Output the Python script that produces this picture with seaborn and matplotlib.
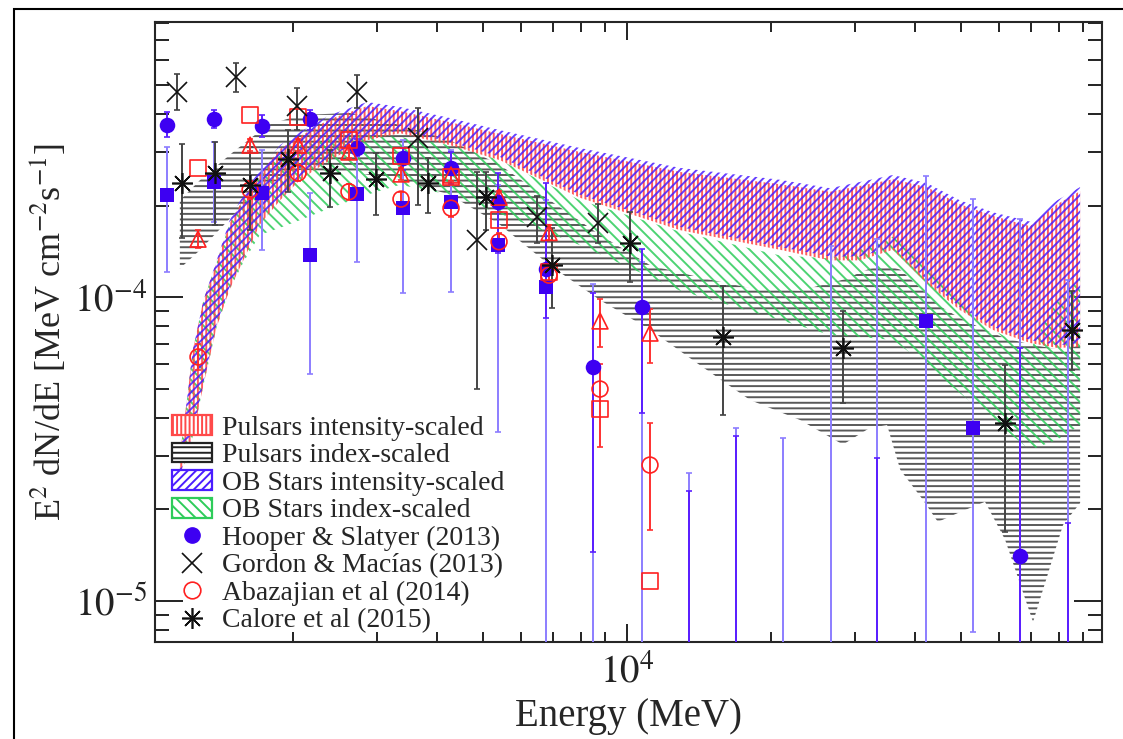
import numpy as np
import matplotlib
matplotlib.use("Agg")
import matplotlib.pyplot as plt
import seaborn as sns
from matplotlib.patches import Patch, Rectangle
from matplotlib.lines import Line2D
from matplotlib.ticker import FuncFormatter

nan = np.nan

# ---------------- model bands ----------------
band_E = [1160, 1200, 1235, 1300, 1385, 1475, 1575, 1705, 1880, 2070, 2390, 2860, 3350,
          4260, 5420, 7980, 12900, 20900, 26600, 30700, 36000, 42400, 49700, 58300,
          69700, 79400, 88700]
psr_int_hi = [3.02e-5, 4.58e-5, 6.69e-5, 9.77e-5, 1.30e-4, 1.75e-4, 2.10e-4, 2.54e-4, 3.07e-4,
              3.38e-4, 3.85e-4, 4.25e-4, 4.09e-4, 3.76e-4, 3.44e-4, 3.00e-4, 2.58e-4, 2.35e-4,
              2.22e-4, 2.32e-4, 2.44e-4, 2.30e-4, 2.02e-4, 1.85e-4, 1.71e-4, 2.02e-4, 2.23e-4]
psr_int_lo = [2.55e-5, 3.00e-5, 3.49e-5, 5.14e-5, 7.97e-5, 1.06e-4, 1.32e-4, 1.73e-4, 2.08e-4,
              2.43e-4, 2.82e-4, 3.28e-4, 3.46e-4, 3.16e-4, 2.82e-4, 2.12e-4, 1.66e-4, 1.43e-4,
              1.32e-4, 1.32e-4, 1.43e-4, 1.11e-4, 9.06e-5, 7.79e-5, 7.06e-5, 6.80e-5, 6.85e-5]
ob_int_hi = [3.02e-5, 4.58e-5, 6.69e-5, 9.77e-5, 1.32e-4, 1.79e-4, 2.17e-4, 2.62e-4, 3.16e-4,
             3.49e-4, 3.97e-4, 4.38e-4, 4.22e-4, 3.88e-4, 3.54e-4, 3.09e-4, 2.66e-4, 2.43e-4,
             2.28e-4, 2.39e-4, 2.52e-4, 2.37e-4, 2.08e-4, 1.90e-4, 1.77e-4, 2.08e-4, 2.30e-4]
ob_int_lo = [2.60e-5, 3.06e-5, 3.57e-5, 5.25e-5, 8.15e-5, 1.08e-4, 1.36e-4, 1.77e-4, 2.13e-4,
             2.48e-4, 2.89e-4, 3.36e-4, 3.54e-4, 3.24e-4, 2.89e-4, 2.17e-4, 1.70e-4, 1.46e-4,
             1.36e-4, 1.36e-4, 1.46e-4, 1.14e-4, 9.27e-5, 7.97e-5, 7.22e-5, 6.95e-5, 7.01e-5]
ob_idx_hi = [3.02e-5, 4.58e-5, 6.69e-5, 9.77e-5, 1.30e-4, 1.75e-4, 2.10e-4, 2.54e-4, 2.93e-4,
             3.16e-4, 3.33e-4, 3.41e-4, 3.36e-4, 3.16e-4, 2.82e-4, 2.08e-4, 1.64e-4, 1.37e-4,
             1.34e-4, 1.43e-4, 1.58e-4, 1.30e-4, 9.77e-5, 7.79e-5, 6.69e-5, 9.77e-5, 1.16e-4]
ob_idx_lo = [2.55e-5, 3.00e-5, 3.49e-5, 5.14e-5, 7.97e-5, 1.06e-4, 1.30e-4, 1.60e-4, 1.69e-4,
             1.79e-4, 1.96e-4, 2.17e-4, 2.34e-4, 2.17e-4, 1.88e-4, 1.48e-4, 1.05e-4, 8.40e-5,
             7.50e-5, 7.39e-5, 7.22e-5, 5.97e-5, 4.83e-5, 3.94e-5, 3.14e-5, 3.39e-5, 3.79e-5]

psr_idx_E = [1160, 1280, 1500, 1770, 2070, 2630, 3350, 4260, 5420, 6900, 8780, 11200, 14200,
             18100, 23000, 28300, 32200, 35000, 37300, 41600, 44700, 49700, 56100, 61800,
             70700, 81700, 88700]
psr_idx_hi = [2.08e-4, 2.43e-4, 3.00e-4, 3.68e-4, 3.97e-4, 4.03e-4, 3.68e-4, 3.28e-4, 2.72e-4,
              2.08e-4, 1.60e-4, 1.27e-4, 1.16e-4, 1.07e-4, 1.05e-4, 1.14e-4, 1.24e-4, 1.27e-4,
              1.23e-4, 1.05e-4, 9.41e-5, 8.53e-5, 7.79e-5, 7.33e-5, 6.95e-5, 6.69e-5, 6.95e-5]
psr_idx_lo = [1.24e-4, 1.43e-4, 1.86e-4, 2.34e-4, 2.62e-4, 2.58e-4, 2.43e-4, 2.17e-4, 1.73e-4,
              1.27e-4, 9.77e-5, 7.79e-5, 5.97e-5, 4.58e-5, 3.94e-5, 3.27e-5, 3.71e-5, 3.79e-5,
              2.70e-5, 2.15e-5, 1.82e-5, 1.96e-5, 2.12e-5, 1.59e-5, 8.53e-6, 1.78e-5, 2.10e-5]

# ---------------- Hooper & Slatyer (2013) ----------------
hs_E = [1091, 1368, 1723, 2172, 2724, 3399, 4283, 5372, 6768, 8489, 10750, 13480, 16900,
        21210, 26720, 33340, 42230, 52950, 66420, 83660]
hs_circ = [3.68e-4, 3.86e-4, 3.65e-4, 3.86e-4, 3.09e-4, 2.87e-4, 2.65e-4, 2.05e-4, 1.24e-4,
           5.89e-5, 9.27e-5, 1e-6, 1e-6, nan, nan, 1e-6, nan, nan, 1.41e-5, 1e-6]
hs_circ_hi = [4.06e-4, 4.12e-4, 3.97e-4, 4.12e-4, 3.30e-4, 3.10e-4, 3.00e-4, 2.56e-4, 2.37e-4,
              1.03e-4, 1.44e-4, 2.30e-5, 3.49e-5, nan, nan, 2.95e-5, nan, nan, 6.79e-5, 1.81e-5]
hs_circ_lo = [3.36e-4, 3.60e-4, 3.36e-4, 3.54e-4, 2.90e-4, 2.62e-4, 2.35e-4, 1.40e-4, 8.53e-5,
              1.45e-5, 4.15e-5, 1e-7, 1e-7, nan, nan, 1e-7, nan, nan, 1e-7, 1e-7]
hs_sq = [2.17e-4, 2.39e-4, 2.20e-4, 1.37e-4, 2.18e-4, 1.96e-4, 2.05e-4, 1.48e-4, 1.08e-4,
         1e-6, 1e-6, 1e-6, 1e-6, 1e-6, 1e-6, 1e-6, 8.34e-5, 3.71e-5, 1e-6, 1e-6]
hs_sq_hi = [3.11e-4, 3.24e-4, 3.05e-4, 2.20e-4, 3.05e-4, 3.28e-4, 3.05e-4, 2.33e-4, 2.08e-4,
            1.10e-4, 1.30e-4, 2.64e-5, 3.71e-5, 3.43e-5, 1.47e-4, 1.55e-4, 2.50e-4, 2.10e-4,
            1.81e-4, 1.14e-4]
hs_sq_lo = [1.21e-4, 1.77e-4, 1.43e-4, 5.58e-5, 1.30e-4, 1.03e-4, 1.04e-4, 3.60e-5, 1e-7,
            1e-7, 1e-7, 1e-7, 1e-7, 1e-7, 1e-7, 1e-7, 1e-7, 7.91e-6, 1e-7, 1e-7]

# ---------------- Gordon & Macias (2013) ----------------
gm_E = [1144, 1521, 2040, 2724, 3654, 4856, 6481, 8695]
gm_v = [4.72e-4, 5.30e-4, 4.25e-4, 4.72e-4, 3.33e-4, 1.54e-4, 1.83e-4, 1.75e-4]
gm_hi = [5.42e-4, 5.89e-4, 4.87e-4, 5.37e-4, 4.19e-4, 2.58e-4, 2.15e-4, 2.02e-4]
gm_lo = [4.12e-4, 4.72e-4, 3.54e-4, 4.19e-4, 2.01e-4, 4.98e-5, 1.51e-4, 1.51e-4]

# ---------------- Abazajian et al (2014) ----------------
ab_E = [1266, 1627, 2050, 2620, 3366, 4283, 5398, 6868, 8780, 11170]
ab_circ = [6.35e-5, 2.25e-4, 2.56e-4, 2.22e-4, 2.10e-4, 1.96e-4, 1.52e-4, 1.18e-4, 4.98e-5, 2.80e-5]
ab_circ_hi = [7.0e-5, 2.40e-4, 2.72e-4, 2.36e-4, 2.22e-4, 2.08e-4, 1.62e-4, 1.27e-4, 6.03e-5, 3.85e-5]
ab_circ_lo = [5.75e-5, 2.10e-4, 2.40e-4, 2.08e-4, 1.98e-4, 1.84e-4, 1.42e-4, 1.09e-4, 3.21e-5, 1.71e-5]
ab_sq = [2.65e-4, 3.97e-4, 3.91e-4, 3.28e-4, 2.91e-4, 2.48e-4, 1.79e-4, 1.21e-4, 4.28e-5, 1.16e-5]
ab_tri = [1.55e-4, 3.16e-4, 3.16e-4, 3.00e-4, 2.54e-4, 2.52e-4, 2.13e-4, 1.63e-4, 8.34e-5, 7.61e-5]
ab_tri_hi = [1.66e-4, 3.30e-4, 3.30e-4, 3.14e-4, 2.66e-4, 2.64e-4, 2.24e-4, 1.72e-4, 9.85e-5, 9.13e-5]
ab_tri_lo = [1.45e-4, 3.02e-4, 3.02e-4, 2.86e-4, 2.42e-4, 2.40e-4, 2.02e-4, 1.54e-4, 6.85e-5, 6.07e-5]

# ---------------- Calore et al (2015) ----------------
ca_E = [1172, 1375, 1627, 1954, 2392, 2985, 3835, 5070, 6966, 10150, 15880, 28300, 61790, 85310]
ca_v = [2.37e-4, 2.56e-4, 2.33e-4, 2.84e-4, 2.56e-4, 2.44e-4, 2.37e-4, 2.13e-4, 1.27e-4,
        1.51e-4, 7.39e-5, 6.79e-5, 3.85e-5, 7.79e-5]
ca_hi = [3.18e-4, 3.24e-4, 3.11e-4, 3.54e-4, 3.05e-4, 2.98e-4, 2.86e-4, 2.58e-4, 1.69e-4,
         1.91e-4, 1.09e-4, 8.99e-5, 5.97e-5, 1.05e-4]
ca_lo = [1.56e-4, 1.73e-4, 1.66e-4, 2.22e-4, 1.98e-4, 1.86e-4, 1.89e-4, 1.66e-4, 9.20e-5,
         1.12e-4, 4.09e-5, 4.48e-5, 1.69e-5, 5.75e-5]

legend_labels = ["Pulsars intensity-scaled", "Pulsars index-scaled", "OB Stars intensity-scaled",
                 "OB Stars index-scaled", "Hooper & Slatyer (2013)", "Gordon & Macías (2013)",
                 "Abazajian et al (2014)", "Calore et al (2015)"]

# ---------------- style ----------------
sns.set_theme(style="ticks")
plt.rcParams.update({
    "font.family": ["Liberation Serif", "DejaVu Serif"],
    "mathtext.fontset": "stix",
    "hatch.linewidth": 1.4,
    "axes.linewidth": 1.5,
    "xtick.direction": "in", "ytick.direction": "in",
    "xtick.top": True, "ytick.right": True,
})

C_RED = "#ff4a4a"
C_BLUE = "#4a1cff"
C_GREEN = "#2ecc5a"
C_GREY = "#303030"
C_MARK = "#3d00f2"
C_ERR_DARK = "#5a1eff"
C_ERR_LIGHT = "#8c7dff"

fig = plt.figure(figsize=(11.23, 7.39), dpi=100)
ax = fig.add_axes([0.1380, 0.1313, 0.8433, 0.8389])
ax.set_xscale("log")
ax.set_yscale("log")

# bands
ax.fill_between(psr_idx_E, psr_idx_lo, psr_idx_hi, facecolor="none", edgecolor=C_GREY,
                hatch="---", linewidth=0, alpha=0.8, zorder=1)
ax.fill_between(band_E, ob_idx_lo, ob_idx_hi, facecolor="none", edgecolor=C_GREEN,
                hatch="\\\\\\", linewidth=0, alpha=0.85, zorder=2)
ax.fill_between(band_E, psr_int_lo, psr_int_hi, facecolor="none", edgecolor=C_RED,
                hatch="||||", linewidth=0, alpha=0.9, zorder=3)
ax.fill_between(band_E, ob_int_lo, ob_int_hi, facecolor="none", edgecolor=C_BLUE,
                hatch="////", linewidth=0, alpha=0.85, zorder=4)


def yerr(v, lo, hi):
    v = np.asarray(v, float)
    return np.vstack([v - np.asarray(lo, float), np.asarray(hi, float) - v])


eb = dict(fmt="none", capsize=2.2, elinewidth=1.4, capthick=1.2)
ax.errorbar(hs_E, hs_sq, yerr=yerr(hs_sq, hs_sq_lo, hs_sq_hi), ecolor=C_ERR_LIGHT, zorder=5, **eb)
ax.errorbar(hs_E, hs_circ, yerr=yerr(hs_circ, hs_circ_lo, hs_circ_hi), ecolor=C_ERR_DARK, zorder=5, **eb)
ax.errorbar(gm_E, gm_v, yerr=yerr(gm_v, gm_lo, gm_hi), ecolor="#444444", zorder=5, **eb)
ax.errorbar(ca_E, ca_v, yerr=yerr(ca_v, ca_lo, ca_hi), ecolor="#444444", zorder=5, **eb)
ax.errorbar(ab_E, ab_circ, yerr=yerr(ab_circ, ab_circ_lo, ab_circ_hi), ecolor="#ff3030", zorder=5, **eb)
ax.errorbar(ab_E, ab_tri, yerr=yerr(ab_tri, ab_tri_lo, ab_tri_hi), ecolor="#ff3030", zorder=5, **eb)

# markers
sns.scatterplot(x=hs_E, y=hs_sq, marker="s", s=115, color=C_MARK, edgecolor=C_MARK,
                linewidth=0, ax=ax, zorder=6)
sns.scatterplot(x=hs_E, y=hs_circ, marker="o", s=125, color=C_MARK, edgecolor=C_MARK,
                linewidth=0, ax=ax, zorder=6)
sns.scatterplot(x=ab_E, y=ab_circ, marker="o", s=130, facecolor="none", edgecolor="#ff2020",
                linewidth=1.2, ax=ax, zorder=6)
sns.scatterplot(x=ab_E, y=ab_sq, marker="s", s=130, facecolor="none", edgecolor="#ff2020",
                linewidth=1.2, ax=ax, zorder=6)
sns.scatterplot(x=ab_E, y=ab_tri, marker="^", s=130, facecolor="none", edgecolor="#ff2020",
                linewidth=1.2, ax=ax, zorder=6)
ax.plot(gm_E, gm_v, ls="none", marker="x", ms=14, mew=1.2, color="#111111", zorder=6)
ax.plot(ca_E, ca_v, ls="none", marker=(8, 2, 0), ms=15, mew=1.2, color="#111111", zorder=6)

ax.set_xlim(1029, 98560)
ax.set_ylim(7.33e-6, 8.03e-4)

pow_fmt = FuncFormatter(lambda v, pos: r"$10^{%d}$" % round(np.log10(v)))
ax.xaxis.set_major_formatter(pow_fmt)
ax.yaxis.set_major_formatter(pow_fmt)

ax.tick_params(axis="x", which="major", length=13, width=1.4, labelsize=28, pad=9)
ax.tick_params(axis="x", which="minor", length=7, width=1.4)
ax.tick_params(axis="y", which="major", length=20, width=1.4, labelsize=28, pad=6)
ax.tick_params(axis="y", which="minor", length=10, width=1.4)
ax.tick_params(colors="#222222", which="both")

ax.set_xlabel("Energy (MeV)", fontsize=28, labelpad=5)
ax.set_ylabel("E$^2$ dN/dE [MeV cm$^{-2}$s$^{-1}$]", fontsize=26, labelpad=4)

handles = [
    Patch(facecolor="white", edgecolor=C_RED, hatch="||||", linewidth=1.6),
    Patch(facecolor="white", edgecolor="#222222", hatch="---", linewidth=1.6),
    Patch(facecolor="white", edgecolor=C_BLUE, hatch="////", linewidth=1.6),
    Patch(facecolor="white", edgecolor=C_GREEN, hatch="\\\\\\", linewidth=1.6),
    Line2D([], [], ls="none", marker="o", ms=11, color=C_MARK),
    Line2D([], [], ls="none", marker="x", ms=14, mew=1.2, color="#111111"),
    Line2D([], [], ls="none", marker="o", ms=12, mfc="none", mec="#ff2020", mew=1.2),
    Line2D([], [], ls="none", marker=(8, 2, 0), ms=15, mew=1.2, color="#111111"),
]
leg = ax.legend(handles, legend_labels, loc="upper left", bbox_to_anchor=(0.018, 0.366),
                frameon=False, fontsize=20, labelspacing=0.07, handlelength=1.44,
                handleheight=0.72, handletextpad=0.36, borderpad=0, borderaxespad=0)
leg.set_zorder(10)

fig.add_artist(Rectangle((14 / 1123, -0.05), 1.2, 1.05 - 9 / 739, transform=fig.transFigure,
                         fill=False, lw=1.5, edgecolor="black", clip_on=False))

fig.savefig("out.png", dpi=100)
